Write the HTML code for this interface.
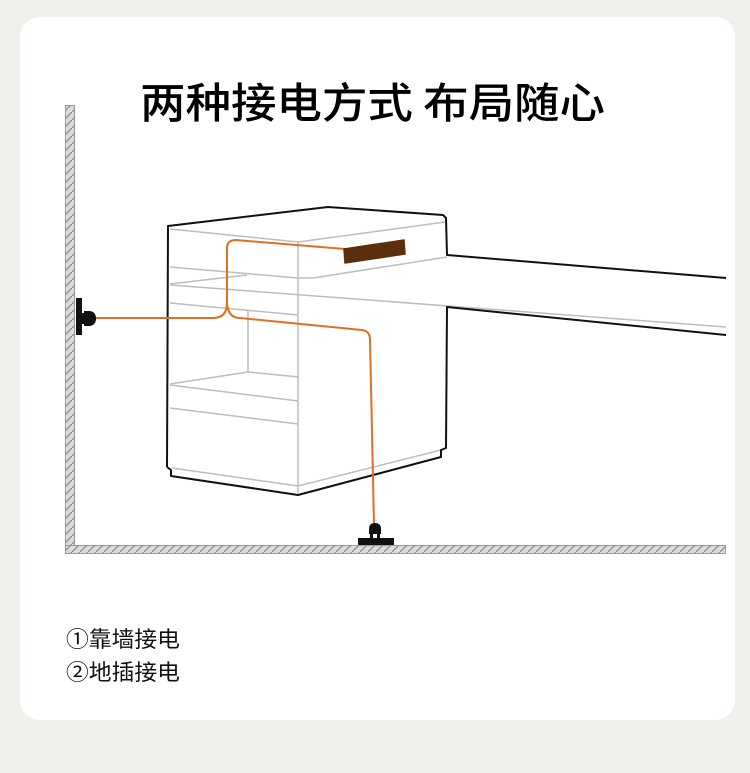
<!DOCTYPE html>
<html><head><meta charset="utf-8"><style>
html,body{margin:0;padding:0;background:#f1f0ec;width:750px;height:773px;overflow:hidden}
svg{display:block}
</style></head><body>
<svg width="750" height="773" viewBox="0 0 750 773" xmlns="http://www.w3.org/2000/svg">
<defs>
<pattern id="h" width="8" height="8" patternUnits="userSpaceOnUse">
<rect width="8" height="8" fill="#dcdcdc"/>
<path d="M-1,9 L9,-1" stroke="#8a8a8a" stroke-width="1.2"/>
</pattern>
</defs>
<rect x="0" y="0" width="750" height="773" fill="#f1f0ec"/>
<rect x="20" y="17" width="715" height="703" rx="20" fill="#ffffff"/>
<text x="140" y="118" font-family="'Noto Sans CJK SC',sans-serif" font-size="42" font-weight="500" fill="#000" textLength="465" lengthAdjust="spacingAndGlyphs">两种接电方式 布局随心</text>

<!-- wall & floor -->
<rect x="65.5" y="105.5" width="9" height="448" fill="url(#h)" stroke="#999" stroke-width="1"/>
<rect x="65.5" y="545.5" width="660" height="8" fill="url(#h)" stroke="#999" stroke-width="1"/>

<!-- gray lines -->
<g stroke="#bdbdbd" stroke-width="1.5" fill="none">
<polyline points="170,229 298,242 445,222"/>
<line x1="298" y1="242" x2="298" y2="493"/>
<polyline points="170,267 298,278 313,278 447,257"/>
<line x1="170" y1="284" x2="247" y2="275"/>
<line x1="170" y1="285" x2="726" y2="327"/>
<line x1="170" y1="303" x2="298" y2="315"/>
<line x1="248" y1="310" x2="248" y2="372"/>
<polyline points="170,384 248,372 299,377"/>
<line x1="170" y1="385" x2="298" y2="401"/>
<line x1="170" y1="408" x2="298" y2="424"/>
<polyline points="172,468 298,486 441,450"/>
</g>

<!-- black outline -->
<g stroke="#111" stroke-width="2" fill="none" stroke-linejoin="round">
<polyline points="167,467 168,226 328,207 443,215 446,218 447,255 726,278"/>
<polyline points="726,335 447,307 446,448 441,450 441,457 298,495 171,476 171,470 167,467"/>
</g>

<!-- orange wire -->
<g stroke="#e07020" stroke-width="2" fill="none">
<path d="M95,318 L213,318 Q227,318 227,303 L227,248 Q227,240 236,240 L345,249"/>
<path d="M227,303 Q228,318 240,318 L362,330 Q370,331 370,340 L374,525"/>
</g>
<polygon points="344,249 404,240 405,254 345,263" fill="#5b2f0e" stroke="#5b2f0e" stroke-width="1.5" stroke-linejoin="round"/>

<!-- wall plug -->
<rect x="76" y="298" width="6" height="37" fill="#111"/>
<rect x="82" y="313" width="4" height="11" fill="#111"/>
<path d="M84,311 L90,311 Q96,312 96,318.5 Q96,325 90,326 L84,326 Z" fill="#111"/>
<!-- floor plug -->
<rect x="358" y="538" width="36" height="7" fill="#111"/>
<rect x="370" y="532" width="3" height="7" fill="#111"/>
<rect x="377" y="532" width="3" height="7" fill="#111"/>
<path d="M369,534 L369,529 Q369,523 375,523 Q381,523 381,529 L381,534 Z" fill="#111"/>

<text x="66" y="647" font-family="'Noto Sans CJK SC',sans-serif" font-size="22" fill="#111" textLength="114" lengthAdjust="spacingAndGlyphs">①靠墙接电</text>
<text x="66" y="680" font-family="'Noto Sans CJK SC',sans-serif" font-size="22" fill="#111" textLength="114" lengthAdjust="spacingAndGlyphs">②地插接电</text>
</svg>
</body></html>
